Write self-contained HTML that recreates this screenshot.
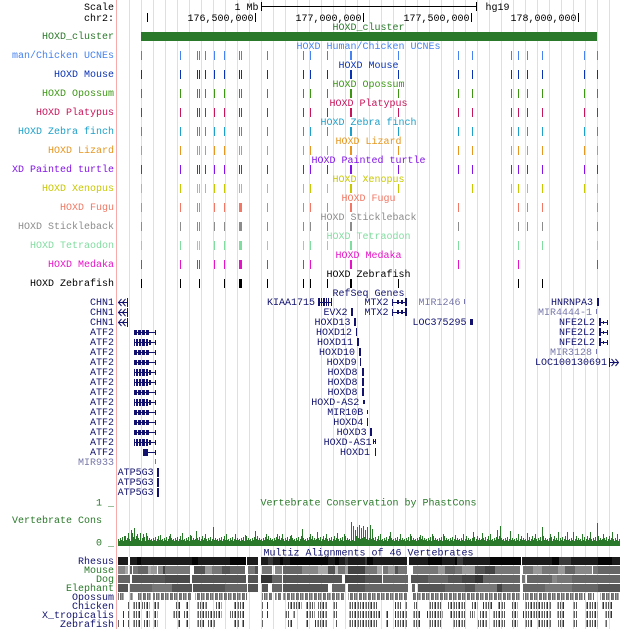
<!DOCTYPE html>
<html><head><meta charset="utf-8"><style>
html,body{margin:0;padding:0;background:#fff;}
svg{display:block;}
text{font-family:"Liberation Mono","DejaVu Sans Mono",monospace;font-size:10px;}
.e{text-anchor:end}.m{text-anchor:middle}
</style></head><body>
<svg width="620" height="629" viewBox="0 0 620 629" xmlns="http://www.w3.org/2000/svg" shape-rendering="crispEdges">
<defs>
<g id="all">
<rect x="141" width="1" height="9"/><rect x="180" width="1" height="9"/><rect x="197" width="1" height="9"/><rect x="199" width="1" height="9"/><rect x="205" width="1" height="9"/><rect x="214" width="1" height="9"/><rect x="224" width="1" height="9"/><rect x="239" width="1" height="9"/><rect x="241" width="1" height="9"/><rect x="267" width="1" height="9"/><rect x="303" width="1" height="9"/><rect x="310" width="1" height="9"/><rect x="327" width="1" height="9"/><rect x="350" width="2" height="9"/><rect x="398" width="1" height="9"/><rect x="458" width="1" height="9"/><rect x="472" width="1" height="9"/><rect x="511" width="1" height="9"/><rect x="518" width="1" height="9"/><rect x="527" width="1" height="9"/><rect x="542" width="1" height="9"/><rect x="584" width="1" height="9"/><rect x="597" width="1" height="9"/>
</g>
<g id="atfa"><rect x="134" y="4" width="22" height="1"/><rect x="134" y="2" width="3" height="5"/><rect x="138" y="2" width="3" height="5"/><rect x="142" y="2" width="3" height="5"/><rect x="146" y="2" width="3" height="5"/><rect x="155" y="2" width="1" height="5"/></g>
<g id="atfb"><rect x="134" y="4" width="22" height="1"/><rect x="134" y="1" width="1" height="7"/><rect x="136" y="1" width="2" height="7"/><rect x="139" y="1" width="2" height="7"/><rect x="142" y="1" width="3" height="7"/><rect x="146" y="1" width="2" height="7"/><rect x="149" y="2" width="2" height="5"/><rect x="155" y="2" width="1" height="5"/></g>
<g id="chn" fill="none" stroke="#12126e" stroke-width="1" shape-rendering="auto"><path d="M121.5,1 L118.5,4.5 L121.5,8 M125.5,1 L122.5,4.5 L125.5,8 M118,4.5 H128 M127.5,0 V9"/></g>
<g id="nfe"><rect x="599" y="0" width="2" height="8"/><rect x="601" y="4" width="7" height="1"/><rect x="607" y="2" width="1" height="5"/><rect x="603" y="3" width="1" height="3"/></g>
<pattern id="cons" x="118" y="534" width="11" height="12" patternUnits="userSpaceOnUse">
<g fill="#2a782a"><rect x="0" y="5" width="1" height="7"/><rect x="1" y="7" width="1" height="5"/><rect x="2" y="4" width="1" height="8"/><rect x="3" y="6" width="1" height="6"/><rect x="4" y="3" width="1" height="9"/><rect x="5" y="7" width="1" height="5"/><rect x="6" y="5" width="1" height="7"/><rect x="7" y="2" width="1" height="10"/><rect x="8" y="6" width="1" height="6"/><rect x="9" y="4" width="1" height="8"/><rect x="10" y="6" width="1" height="6"/></g>
</pattern>
<pattern id="sp" x="0" y="0" width="8" height="10" patternUnits="userSpaceOnUse">
<rect x="0" width="1" height="10" fill="#555"/><rect x="2" width="1" height="10" fill="#999"/><rect x="3" width="1" height="10" fill="#333"/><rect x="5" width="1" height="10" fill="#aaa"/><rect x="6" width="1" height="10" fill="#666"/>
</pattern>
<pattern id="op" x="0" y="0" width="9" height="10" patternUnits="userSpaceOnUse">
<rect x="0" width="2" height="10" fill="#777"/><rect x="3" width="1" height="10" fill="#666"/><rect x="4" width="1" height="10" fill="#999"/><rect x="5" width="1" height="10" fill="#777"/><rect x="6" width="1" height="10" fill="#aaa"/><rect x="8" width="1" height="10" fill="#666"/>
</pattern>
</defs>
<rect width="620" height="629" fill="#fff"/>
<!-- gridlines -->
<g fill="#dcdcf4">
<rect x="129" y="0" width="1" height="629"/><rect x="141" y="0" width="1" height="629"/><rect x="153" y="0" width="1" height="629"/><rect x="165" y="0" width="1" height="629"/><rect x="177" y="0" width="1" height="629"/><rect x="189" y="0" width="1" height="629"/><rect x="201" y="0" width="1" height="629"/><rect x="213" y="0" width="1" height="629"/><rect x="225" y="0" width="1" height="629"/><rect x="237" y="0" width="1" height="629"/><rect x="249" y="0" width="1" height="629"/><rect x="261" y="0" width="1" height="629"/><rect x="273" y="0" width="1" height="629"/><rect x="285" y="0" width="1" height="629"/><rect x="297" y="0" width="1" height="629"/><rect x="309" y="0" width="1" height="629"/><rect x="321" y="0" width="1" height="629"/><rect x="333" y="0" width="1" height="629"/><rect x="345" y="0" width="1" height="629"/><rect x="357" y="0" width="1" height="629"/><rect x="369" y="0" width="1" height="629"/><rect x="381" y="0" width="1" height="629"/><rect x="393" y="0" width="1" height="629"/><rect x="405" y="0" width="1" height="629"/><rect x="417" y="0" width="1" height="629"/><rect x="429" y="0" width="1" height="629"/><rect x="441" y="0" width="1" height="629"/><rect x="453" y="0" width="1" height="629"/><rect x="465" y="0" width="1" height="629"/><rect x="477" y="0" width="1" height="629"/><rect x="489" y="0" width="1" height="629"/><rect x="501" y="0" width="1" height="629"/><rect x="513" y="0" width="1" height="629"/><rect x="525" y="0" width="1" height="629"/><rect x="537" y="0" width="1" height="629"/><rect x="549" y="0" width="1" height="629"/><rect x="561" y="0" width="1" height="629"/><rect x="573" y="0" width="1" height="629"/><rect x="585" y="0" width="1" height="629"/><rect x="597" y="0" width="1" height="629"/><rect x="609" y="0" width="1" height="629"/>
</g>
<rect x="116" y="0" width="1" height="629" fill="#f8aaaa"/>

<!-- ruler -->
<text x="114" y="10" class="e">Scale</text>
<text x="114" y="21" class="e">chr2:</text>
<text x="258.5" y="10" class="e">1 Mb</text>
<rect x="261" y="2" width="1" height="9" fill="#000"/><rect x="261" y="6" width="215" height="1" fill="#000"/><rect x="476" y="2" width="1" height="9" fill="#000"/>
<text x="485.5" y="10">hg19</text>
<g fill="#000"><rect x="147" y="13" width="1" height="9"/><rect x="255" y="13" width="1" height="9"/><rect x="363" y="13" width="1" height="9"/><rect x="471" y="13" width="1" height="9"/><rect x="578" y="13" width="1" height="9"/></g>
<text x="253.5" y="21" class="e">176,500,000</text>
<text x="361.5" y="21" class="e">177,000,000</text>
<text x="469.5" y="21" class="e">177,500,000</text>
<text x="576.5" y="21" class="e">178,000,000</text>

<!-- HOXD cluster -->
<text x="114" y="39" class="e" fill="#2a782a">HOXD_cluster</text>
<text x="368.5" y="30" class="m" fill="#2a782a">HOXD_cluster</text>
<rect x="141" y="32" width="456" height="9" fill="#2a782a"/>

<!-- tracks -->
<text x="114" y="58" class="e" fill="#4682f0">man/Chicken UCNEs</text>
<text x="368.5" y="49" class="m" fill="#4682f0">HOXD Human/Chicken UCNEs</text>
<use href="#all" y="51" fill="#4682f0"/>

<text x="114" y="77" class="e" fill="#0a32b4">HOXD Mouse</text>
<text x="368.5" y="68" class="m" fill="#0a32b4">HOXD Mouse</text>
<use href="#all" y="70" fill="#0a32b4"/>

<text x="114" y="96" class="e" fill="#3c9614">HOXD Opossum</text>
<text x="368.5" y="87" class="m" fill="#3c9614">HOXD Opossum</text>
<use href="#all" y="89" fill="#3c9614"/>

<text x="114" y="115" class="e" fill="#c8145a">HOXD Platypus</text>
<text x="368.5" y="106" class="m" fill="#c8145a">HOXD Platypus</text>
<use href="#all" y="108" fill="#c8145a"/>

<text x="114" y="134" class="e" fill="#1ea0c8">HOXD Zebra finch</text>
<text x="368.5" y="125" class="m" fill="#1ea0c8">HOXD Zebra finch</text>
<use href="#all" y="127" fill="#1ea0c8"/>

<text x="114" y="153" class="e" fill="#e6961e">HOXD Lizard</text>
<text x="368.5" y="144" class="m" fill="#e6961e">HOXD Lizard</text>
<use href="#all" y="146" fill="#e6961e"/>

<text x="114" y="172" class="e" fill="#8214e6">XD Painted turtle</text>
<text x="368.5" y="163" class="m" fill="#8214e6">HOXD Painted turtle</text>
<use href="#all" y="165" fill="#8214e6"/>

<text x="114" y="191" class="e" fill="#c8c800">HOXD Xenopus</text>
<text x="368.5" y="182" class="m" fill="#c8c800">HOXD Xenopus</text>
<g fill="#c8c800" transform="translate(0,184)"><rect x="141" width="1" height="9"/><rect x="180" width="1" height="9"/><rect x="197" width="1" height="9"/><rect x="199" width="1" height="9"/><rect x="205" width="1" height="9"/><rect x="214" width="1" height="9"/><rect x="224" width="1" height="9"/><rect x="239" width="1" height="9"/><rect x="241" width="1" height="9"/><rect x="267" width="1" height="9"/><rect x="303" width="1" height="9"/><rect x="310" width="1" height="9"/><rect x="327" width="1" height="9"/><rect x="350" width="2" height="9"/><rect x="398" width="1" height="9"/><rect x="472" width="1" height="9"/><rect x="511" width="1" height="9"/><rect x="518" width="1" height="9"/><rect x="527" width="1" height="9"/><rect x="542" width="1" height="9"/><rect x="584" width="1" height="9"/><rect x="597" width="1" height="9"/></g>

<text x="114" y="210" class="e" fill="#f07864">HOXD Fugu</text>
<text x="368.5" y="201" class="m" fill="#f07864">HOXD Fugu</text>
<g fill="#f07864" transform="translate(0,203)"><rect x="141" width="1" height="9"/><rect x="180" width="1" height="9"/><rect x="197" width="1" height="9"/><rect x="199" width="1" height="9"/><rect x="214" width="1" height="9"/><rect x="224" width="1" height="9"/><rect x="239" width="2" height="9"/><rect x="241" width="1" height="9"/><rect x="267" width="1" height="9"/><rect x="303" width="1" height="9"/><rect x="310" width="1" height="9"/><rect x="327" width="1" height="9"/><rect x="350" width="2" height="9"/><rect x="458" width="1" height="9"/><rect x="518" width="1" height="9"/><rect x="527" width="1" height="9"/><rect x="542" width="1" height="9"/><rect x="597" width="1" height="9"/></g>

<text x="114" y="229" class="e" fill="#8c8c8c">HOXD Stickleback</text>
<text x="368.5" y="220" class="m" fill="#8c8c8c">HOXD Stickleback</text>
<g fill="#8c8c8c" transform="translate(0,222)"><rect x="141" width="1" height="9"/><rect x="180" width="1" height="9"/><rect x="197" width="1" height="9"/><rect x="199" width="1" height="9"/><rect x="214" width="1" height="9"/><rect x="224" width="1" height="9"/><rect x="239" width="2" height="9"/><rect x="241" width="1" height="9"/><rect x="267" width="1" height="9"/><rect x="303" width="1" height="9"/><rect x="310" width="1" height="9"/><rect x="327" width="1" height="9"/><rect x="350" width="2" height="9"/><rect x="458" width="1" height="9"/><rect x="518" width="1" height="9"/><rect x="527" width="1" height="9"/><rect x="542" width="1" height="9"/><rect x="597" width="1" height="9"/></g>

<text x="114" y="248" class="e" fill="#82dca0">HOXD Tetraodon</text>
<text x="368.5" y="239" class="m" fill="#82dca0">HOXD Tetraodon</text>
<g fill="#82dca0" transform="translate(0,241)"><rect x="141" width="1" height="9"/><rect x="180" width="1" height="9"/><rect x="197" width="1" height="9"/><rect x="199" width="1" height="9"/><rect x="214" width="1" height="9"/><rect x="224" width="1" height="9"/><rect x="239" width="2" height="9"/><rect x="241" width="1" height="9"/><rect x="267" width="1" height="9"/><rect x="303" width="1" height="9"/><rect x="310" width="1" height="9"/><rect x="327" width="1" height="9"/><rect x="350" width="2" height="9"/><rect x="458" width="1" height="9"/><rect x="518" width="1" height="9"/><rect x="542" width="1" height="9"/><rect x="597" width="1" height="9"/></g>

<text x="114" y="267" class="e" fill="#e614c8">HOXD Medaka</text>
<text x="368.5" y="258" class="m" fill="#e614c8">HOXD Medaka</text>
<g fill="#e614c8" transform="translate(0,260)"><rect x="141" width="1" height="9"/><rect x="180" width="1" height="9"/><rect x="197" width="1" height="9"/><rect x="199" width="1" height="9"/><rect x="214" width="1" height="9"/><rect x="224" width="1" height="9"/><rect x="239" width="2" height="9"/><rect x="241" width="1" height="9"/><rect x="267" width="1" height="9"/><rect x="303" width="1" height="9"/><rect x="310" width="1" height="9"/><rect x="350" width="2" height="9"/><rect x="458" width="1" height="9"/><rect x="518" width="1" height="9"/><rect x="597" width="1" height="9"/></g>

<text x="114" y="286" class="e" fill="#000">HOXD Zebrafish</text>
<text x="368.5" y="277" class="m" fill="#000">HOXD Zebrafish</text>
<g fill="#000" transform="translate(0,279)"><rect x="141" width="1" height="9"/><rect x="180" width="1" height="9"/><rect x="199" width="1" height="9"/><rect x="224" width="1" height="9"/><rect x="239" width="2" height="9"/><rect x="241" width="1" height="9"/><rect x="267" width="1" height="9"/><rect x="303" width="1" height="9"/><rect x="310" width="1" height="9"/><rect x="327" width="1" height="9"/><rect x="350" width="2" height="9"/><rect x="398" width="1" height="9"/><rect x="518" width="1" height="9"/><rect x="542" width="1" height="9"/></g>

<!-- RefSeq genes -->
<g fill="#12126e">
<text x="368.5" y="296" class="m">RefSeq Genes</text>
<text x="114" y="305" class="e">CHN1</text>
<text x="114" y="315" class="e">CHN1</text>
<text x="114" y="325" class="e">CHN1</text>
<text x="114" y="335" class="e">ATF2</text>
<text x="114" y="345" class="e">ATF2</text>
<text x="114" y="355" class="e">ATF2</text>
<text x="114" y="365" class="e">ATF2</text>
<text x="114" y="375" class="e">ATF2</text>
<text x="114" y="385" class="e">ATF2</text>
<text x="114" y="395" class="e">ATF2</text>
<text x="114" y="405" class="e">ATF2</text>
<text x="114" y="415" class="e">ATF2</text>
<text x="114" y="425" class="e">ATF2</text>
<text x="114" y="435" class="e">ATF2</text>
<text x="114" y="445" class="e">ATF2</text>
<text x="114" y="455" class="e">ATF2</text>
<text x="153.7" y="475" class="e">ATP5G3</text>
<text x="153.7" y="485" class="e">ATP5G3</text>
<text x="153.7" y="495" class="e">ATP5G3</text>
<text x="315" y="305" class="e">KIAA1715</text>
<text x="388.5" y="305" class="e">MTX2</text>
<text x="347.5" y="315" class="e">EVX2</text>
<text x="388.5" y="315" class="e">MTX2</text>
<text x="350.5" y="325" class="e">HOXD13</text>
<text x="466.5" y="325" class="e">LOC375295</text>
<text x="352" y="335" class="e">HOXD12</text>
<text x="353" y="345" class="e">HOXD11</text>
<text x="355" y="355" class="e">HOXD10</text>
<text x="356.7" y="365" class="e">HOXD9</text>
<text x="357.5" y="375" class="e">HOXD8</text>
<text x="357.5" y="385" class="e">HOXD8</text>
<text x="357.5" y="395" class="e">HOXD8</text>
<text x="359.3" y="405" class="e">HOXD-AS2</text>
<text x="363.3" y="415" class="e">MIR10B</text>
<text x="363.3" y="425" class="e">HOXD4</text>
<text x="366.7" y="435" class="e">HOXD3</text>
<text x="371.7" y="445" class="e">HOXD-AS1</text>
<text x="370" y="455" class="e">HOXD1</text>
<text x="593" y="305" class="e">HNRNPA3</text>
<text x="595" y="325" class="e">NFE2L2</text>
<text x="595" y="335" class="e">NFE2L2</text>
<text x="595" y="345" class="e">NFE2L2</text>
<text x="607" y="365" class="e">LOC100130691</text>
</g>
<g fill="#7878aa">
<text x="114" y="465" class="e">MIR933</text>
<text x="460.5" y="305" class="e">MIR1246</text>
<text x="592" y="315" class="e">MIR4444-1</text>
<text x="592" y="355" class="e">MIR3128</text>
<rect x="464" y="299" width="1" height="5"/>
<rect x="596" y="309" width="1" height="5"/>
<rect x="596" y="349" width="1" height="5"/>
<rect x="155" y="459" width="1" height="5"/>
</g>
<use href="#chn" y="298"/><use href="#chn" y="308"/><use href="#chn" y="318"/>
<g fill="#12126e">
<use href="#atfa" y="328"/><use href="#atfb" y="338"/><use href="#atfa" y="348"/><use href="#atfa" y="358"/><use href="#atfb" y="368"/><use href="#atfb" y="378"/><use href="#atfa" y="388"/><use href="#atfb" y="398"/><use href="#atfa" y="408"/><use href="#atfa" y="418"/><use href="#atfa" y="428"/><use href="#atfb" y="438"/>
<rect x="143" y="449" width="5" height="7"/><rect x="148" y="452" width="8" height="1"/><rect x="155" y="450" width="1" height="5"/>
<rect x="157" y="468" width="2" height="9"/><rect x="157" y="478" width="2" height="9"/><rect x="157" y="488" width="2" height="9"/>
<rect x="318" y="302" width="14" height="1"/><rect x="318" y="298" width="2" height="8"/><rect x="321" y="298" width="1" height="8"/><rect x="323" y="298" width="2" height="8"/><rect x="326" y="298" width="1" height="8"/><rect x="328" y="298" width="1" height="8"/><rect x="331" y="298" width="1" height="8"/>
<rect x="392" y="302" width="15" height="1"/><rect x="392" y="299" width="1" height="7"/><rect x="397" y="300" width="2" height="4"/><rect x="401" y="300" width="2" height="4"/><rect x="405" y="298" width="2" height="8"/>
<rect x="392" y="312" width="15" height="1"/><rect x="392" y="309" width="1" height="7"/><rect x="397" y="310" width="2" height="4"/><rect x="401" y="310" width="2" height="4"/><rect x="405" y="308" width="2" height="8"/>
<rect x="351" y="308" width="2" height="8"/>
<rect x="354" y="318" width="2" height="8"/>
<rect x="470" y="319" width="3" height="6"/>
<rect x="356" y="328" width="1" height="8"/>
<rect x="357" y="338" width="2" height="8"/>
<rect x="359" y="348" width="2" height="8"/>
<rect x="360" y="358" width="1" height="8"/>
<rect x="362" y="368" width="2" height="8"/>
<rect x="362" y="378" width="2" height="8"/>
<rect x="362" y="388" width="2" height="8"/>
<rect x="363" y="400" width="2" height="4"/>
<rect x="367" y="410" width="1" height="4"/>
<rect x="367" y="418" width="1" height="8"/>
<rect x="370" y="428" width="2" height="8"/>
<rect x="373" y="439" width="1" height="5"/><rect x="373" y="441" width="3" height="1"/><rect x="375" y="439" width="1" height="5"/>
<rect x="375" y="448" width="1" height="8"/>
<rect x="597" y="298" width="2" height="8"/>
<use href="#nfe" y="318"/><use href="#nfe" y="328"/><use href="#nfe" y="338"/>
</g>
<g fill="none" stroke="#12126e" stroke-width="1" shape-rendering="auto"><path d="M609.5,358 V367 M609,362.5 H618 M611.5,359 L614.5,362.5 L611.5,366 M615.5,359 L618.5,362.5 L615.5,366"/></g>

<!-- Conservation -->
<g fill="#2a782a">
<text x="368.5" y="505.5" class="m">Vertebrate Conservation by PhastCons</text>
<text x="114" y="505.5" class="e">1 _</text>
<text x="102" y="523" class="e">Vertebrate Cons</text>
<text x="114" y="545.5" class="e">0 _</text>
</g>
<rect x="118" y="534" width="502" height="12" fill="url(#cons)"/>
<rect x="118" y="543" width="502" height="3" fill="#2a782a"/>
<g fill="#2a782a">
<rect x="124" y="536" width="1" height="10"/><rect x="128" y="533" width="1" height="13"/><rect x="131" y="530" width="1" height="16"/><rect x="132" y="533" width="1" height="13"/><rect x="134" y="528" width="1" height="18"/><rect x="137" y="534" width="1" height="12"/><rect x="140" y="533" width="1" height="13"/><rect x="143" y="534" width="1" height="12"/><rect x="146" y="533" width="1" height="13"/><rect x="160" y="535" width="1" height="11"/><rect x="170" y="534" width="1" height="12"/><rect x="182" y="533" width="1" height="13"/><rect x="190" y="535" width="1" height="11"/><rect x="196" y="531" width="1" height="15"/><rect x="205" y="534" width="1" height="12"/><rect x="213" y="527" width="1" height="19"/><rect x="226" y="534" width="1" height="12"/><rect x="235" y="534" width="1" height="12"/><rect x="245" y="535" width="1" height="11"/><rect x="255" y="531" width="1" height="15"/><rect x="266" y="534" width="1" height="12"/><rect x="277" y="534" width="1" height="12"/><rect x="282" y="534" width="1" height="12"/><rect x="291" y="535" width="1" height="11"/><rect x="302" y="529" width="1" height="17"/><rect x="310" y="534" width="1" height="12"/><rect x="317" y="532" width="1" height="14"/><rect x="326" y="534" width="1" height="12"/><rect x="337" y="533" width="1" height="13"/><rect x="344" y="534" width="1" height="12"/><rect x="351" y="522" width="1" height="24"/><rect x="353" y="526" width="1" height="20"/><rect x="355" y="530" width="1" height="16"/><rect x="357" y="527" width="1" height="19"/><rect x="359" y="525" width="1" height="21"/><rect x="361" y="528" width="1" height="18"/><rect x="363" y="526" width="1" height="20"/><rect x="365" y="530" width="1" height="16"/><rect x="367" y="527" width="1" height="19"/><rect x="370" y="525" width="1" height="21"/><rect x="372" y="529" width="1" height="17"/><rect x="380" y="534" width="1" height="12"/><rect x="390" y="532" width="1" height="14"/><rect x="400" y="534" width="1" height="12"/><rect x="410" y="534" width="1" height="12"/><rect x="420" y="535" width="1" height="11"/><rect x="432" y="534" width="1" height="12"/><rect x="443" y="534" width="1" height="12"/><rect x="455" y="535" width="1" height="11"/><rect x="463" y="534" width="1" height="12"/><rect x="473" y="532" width="1" height="14"/><rect x="482" y="533" width="1" height="13"/><rect x="490" y="534" width="1" height="12"/><rect x="497" y="530" width="1" height="16"/><rect x="500" y="526" width="1" height="20"/><rect x="510" y="531" width="1" height="15"/><rect x="518" y="534" width="1" height="12"/><rect x="527" y="533" width="1" height="13"/><rect x="535" y="534" width="1" height="12"/><rect x="542" y="527" width="1" height="19"/><rect x="550" y="534" width="1" height="12"/><rect x="558" y="532" width="1" height="14"/><rect x="567" y="532" width="1" height="14"/><rect x="573" y="532" width="1" height="14"/><rect x="582" y="534" width="1" height="12"/><rect x="590" y="532" width="1" height="14"/><rect x="597" y="523" width="1" height="23"/><rect x="603" y="534" width="1" height="12"/><rect x="612" y="532" width="1" height="14"/><rect x="617" y="534" width="1" height="12"/>
</g>

<!-- Multiz -->
<text x="368.5" y="555.5" class="m" fill="#12126e">Multiz Alignments of 46 Vertebrates</text>
<text x="114" y="564" class="e" fill="#12126e">Rhesus</text>
<text x="114" y="573" class="e" fill="#2a782a">Mouse</text>
<text x="114" y="582" class="e" fill="#2a782a">Dog</text>
<text x="114" y="591" class="e" fill="#2a782a">Elephant</text>
<text x="114" y="600" class="e" fill="#12126e">Opossum</text>
<text x="114" y="609" class="e" fill="#12126e">Chicken</text>
<text x="114" y="618" class="e" fill="#12126e">X_tropicalis</text>
<text x="114" y="627" class="e" fill="#12126e">Zebrafish</text>

<g transform="translate(0,557)">
<rect x="118" width="502" height="8" fill="#1c1c1c"/>
<g fill="#050505"><rect x="137" width="4" height="8"/><rect x="192" width="6" height="8"/><rect x="230" width="16" height="8"/><rect x="280" width="3" height="8"/><rect x="290" width="38" height="8"/><rect x="335" width="4" height="8"/><rect x="367" width="6" height="8"/><rect x="428" width="14" height="8"/><rect x="455" width="5" height="8"/><rect x="490" width="31" height="8"/><rect x="552" width="7" height="8"/><rect x="598" width="14" height="8"/></g>
<g fill="#3a3a3a"><rect x="268" width="5" height="8"/><rect x="345" width="3" height="8"/><rect x="365" width="2" height="8"/><rect x="457" width="6" height="8"/><rect x="559" width="12" height="8"/></g>
<g fill="#fff"><rect x="128" width="2" height="8"/><rect x="246" width="1" height="8"/><rect x="258" width="3" height="8"/><rect x="407" width="2" height="8"/><rect x="521" width="1" height="8"/></g>
</g>
<g transform="translate(0,566)">
<rect x="118" width="7" height="8" fill="#888"/><rect x="125" width="3" height="8" fill="#aaa"/><rect x="130" width="2" height="8" fill="#666"/><rect x="133" width="5" height="8" fill="#777"/><rect x="138" width="10" height="8" fill="#666"/><rect x="148" width="3" height="8" fill="#aaa"/><rect x="151" width="6" height="8" fill="#999"/><rect x="158" width="5" height="8" fill="#888"/><rect x="163" width="2" height="8" fill="#444"/><rect x="165" width="25" height="8" fill="#777"/><rect x="194" width="11" height="8" fill="#555"/><rect x="205" width="7" height="8" fill="#999"/><rect x="212" width="10" height="8" fill="#777"/><rect x="222" width="8" height="8" fill="#555"/><rect x="230" width="15" height="8" fill="#666"/><rect x="248" width="7" height="8" fill="#777"/><rect x="255" width="3" height="8" fill="#555"/><rect x="262" width="10" height="8" fill="#777"/><rect x="275" width="7" height="8" fill="#888"/><rect x="283" width="19" height="8" fill="#666"/><rect x="302" width="16" height="8" fill="#888"/><rect x="318" width="10" height="8" fill="#aaa"/><rect x="328" width="7" height="8" fill="#555"/><rect x="335" width="3" height="8" fill="#bbb"/><rect x="338" width="7" height="8" fill="#777"/><rect x="345" width="3" height="8" fill="#aaa"/><rect x="348" width="17" height="8" fill="#444"/><rect x="365" width="12" height="8" fill="#777"/><rect x="377" width="5" height="8" fill="#aaa"/><rect x="383" width="5" height="8" fill="#777"/><rect x="388" width="7" height="8" fill="#999"/><rect x="395" width="3" height="8" fill="#555"/><rect x="398" width="9" height="8" fill="#777"/><rect x="413" width="25" height="8" fill="#777"/><rect x="438" width="7" height="8" fill="#999"/><rect x="445" width="10" height="8" fill="#666"/><rect x="455" width="7" height="8" fill="#777"/><rect x="462" width="13" height="8" fill="#999"/><rect x="475" width="10" height="8" fill="#555"/><rect x="485" width="10" height="8" fill="#444"/><rect x="495" width="25" height="8" fill="#777"/><rect x="523" width="10" height="8" fill="#777"/><rect x="533" width="9" height="8" fill="#999"/><rect x="542" width="16" height="8" fill="#777"/><rect x="558" width="7" height="8" fill="#999"/><rect x="565" width="10" height="8" fill="#666"/><rect x="575" width="17" height="8" fill="#888"/><rect x="593" width="5" height="8" fill="#777"/><rect x="598" width="22" height="8" fill="#666"/>
</g>
<g transform="translate(0,575)">
<rect x="118" width="12" height="8" fill="#666"/><rect x="132" width="33" height="8" fill="#555"/><rect x="165" width="25" height="8" fill="#4a4a4a"/><rect x="192" width="23" height="8" fill="#555"/><rect x="215" width="31" height="8" fill="#555"/><rect x="248" width="10" height="8" fill="#555"/><rect x="261" width="11" height="8" fill="#333"/><rect x="272" width="10" height="8" fill="#666"/><rect x="283" width="59" height="8" fill="#555"/><rect x="345" width="20" height="8" fill="#444"/><rect x="365" width="17" height="8" fill="#555"/><rect x="383" width="25" height="8" fill="#666"/><rect x="411" width="17" height="8" fill="#555"/><rect x="428" width="20" height="8" fill="#666"/><rect x="448" width="14" height="8" fill="#555"/><rect x="462" width="13" height="8" fill="#444"/><rect x="475" width="8" height="8" fill="#333"/><rect x="483" width="37" height="8" fill="#666"/><rect x="522" width="3" height="8" fill="#777"/><rect x="527" width="25" height="8" fill="#666"/><rect x="552" width="5" height="8" fill="#888"/><rect x="557" width="15" height="8" fill="#777"/><rect x="572" width="48" height="8" fill="#666"/>
</g>
<g transform="translate(0,584)">
<rect x="118" width="10" height="8" fill="#555"/><rect x="130" width="22" height="8" fill="#666"/><rect x="152" width="20" height="8" fill="#777"/><rect x="172" width="20" height="8" fill="#555"/><rect x="193" width="32" height="8" fill="#555"/><rect x="225" width="22" height="8" fill="#666"/><rect x="248" width="10" height="8" fill="#555"/><rect x="262" width="6" height="8" fill="#555"/><rect x="272" width="10" height="8" fill="#666"/><rect x="283" width="45" height="8" fill="#555"/><rect x="332" width="13" height="8" fill="#666"/><rect x="348" width="17" height="8" fill="#555"/><rect x="365" width="43" height="8" fill="#666"/><rect x="412" width="3" height="8" fill="#666"/><rect x="418" width="27" height="8" fill="#555"/><rect x="445" width="20" height="8" fill="#666"/><rect x="465" width="10" height="8" fill="#555"/><rect x="475" width="22" height="8" fill="#777"/><rect x="497" width="5" height="8" fill="#444"/><rect x="502" width="18" height="8" fill="#666"/><rect x="523" width="22" height="8" fill="#666"/><rect x="545" width="27" height="8" fill="#777"/><rect x="572" width="26" height="8" fill="#666"/><rect x="598" width="22" height="8" fill="#555"/>
</g>
<g transform="translate(0,593)" fill="url(#op)">
<rect x="118" width="7" height="7"/><rect x="130" width="3" height="7"/><rect x="138" width="14" height="7"/><rect x="153" width="38" height="7"/><rect x="195" width="52" height="7"/><rect x="262" width="10" height="7"/><rect x="275" width="7" height="7"/><rect x="283" width="62" height="7"/><rect x="348" width="60" height="7"/><rect x="412" width="108" height="7"/><rect x="523" width="62" height="7"/><rect x="588" width="6" height="7"/><rect x="600" width="20" height="7"/>
</g>
<g transform="translate(0,602)" fill="url(#sp)">
<rect x="128" width="1" height="7"/><rect x="133" width="7" height="7"/><rect x="142" width="8" height="7"/><rect x="153" width="7" height="7"/><rect x="175" width="5" height="7"/><rect x="185" width="4" height="7"/><rect x="197" width="11" height="7"/><rect x="215" width="7" height="7"/><rect x="233" width="12" height="7"/><rect x="262" width="1" height="7"/><rect x="267" width="1" height="7"/><rect x="287" width="15" height="7"/><rect x="305" width="10" height="7"/><rect x="318" width="10" height="7"/><rect x="332" width="6" height="7"/><rect x="348" width="30" height="7"/><rect x="395" width="7" height="7"/><rect x="404" width="4" height="7"/><rect x="414" width="4" height="7"/><rect x="428" width="14" height="7"/><rect x="447" width="18" height="7"/><rect x="472" width="6" height="7"/><rect x="483" width="9" height="7"/><rect x="497" width="8" height="7"/><rect x="512" width="6" height="7"/><rect x="525" width="7" height="7"/><rect x="533" width="19" height="7"/><rect x="557" width="8" height="7"/><rect x="572" width="6" height="7"/><rect x="585" width="13" height="7"/><rect x="602" width="10" height="7"/>
</g>
<g transform="translate(0,611)" fill="url(#sp)">
<rect x="123" width="1" height="7"/><rect x="128" width="2" height="7"/><rect x="133" width="8" height="7"/><rect x="145" width="5" height="7"/><rect x="153" width="5" height="7"/><rect x="172" width="8" height="7"/><rect x="183" width="5" height="7"/><rect x="197" width="25" height="7"/><rect x="230" width="15" height="7"/><rect x="262" width="1" height="7"/><rect x="267" width="1" height="7"/><rect x="285" width="5" height="7"/><rect x="293" width="2" height="7"/><rect x="305" width="10" height="7"/><rect x="318" width="10" height="7"/><rect x="332" width="6" height="7"/><rect x="348" width="32" height="7"/><rect x="385" width="3" height="7"/><rect x="395" width="13" height="7"/><rect x="413" width="7" height="7"/><rect x="427" width="16" height="7"/><rect x="450" width="15" height="7"/><rect x="470" width="5" height="7"/><rect x="480" width="8" height="7"/><rect x="492" width="13" height="7"/><rect x="512" width="6" height="7"/><rect x="523" width="9" height="7"/><rect x="533" width="19" height="7"/><rect x="557" width="8" height="7"/><rect x="572" width="6" height="7"/><rect x="585" width="13" height="7"/><rect x="605" width="7" height="7"/>
</g>
<g transform="translate(0,620)" fill="url(#sp)">
<rect x="118" width="1" height="7"/><rect x="123" width="1" height="7"/><rect x="128" width="2" height="7"/><rect x="133" width="8" height="7"/><rect x="143" width="7" height="7"/><rect x="153" width="5" height="7"/><rect x="177" width="3" height="7"/><rect x="185" width="3" height="7"/><rect x="197" width="8" height="7"/><rect x="208" width="7" height="7"/><rect x="233" width="7" height="7"/><rect x="242" width="3" height="7"/><rect x="262" width="1" height="7"/><rect x="288" width="4" height="7"/><rect x="305" width="3" height="7"/><rect x="315" width="13" height="7"/><rect x="335" width="3" height="7"/><rect x="348" width="30" height="7"/><rect x="385" width="3" height="7"/><rect x="395" width="13" height="7"/><rect x="413" width="7" height="7"/><rect x="428" width="14" height="7"/><rect x="453" width="12" height="7"/><rect x="478" width="10" height="7"/><rect x="492" width="13" height="7"/><rect x="512" width="6" height="7"/><rect x="525" width="7" height="7"/><rect x="538" width="14" height="7"/><rect x="558" width="7" height="7"/><rect x="572" width="6" height="7"/><rect x="585" width="13" height="7"/><rect x="605" width="3" height="7"/>
</g>
</svg>
</body></html>
